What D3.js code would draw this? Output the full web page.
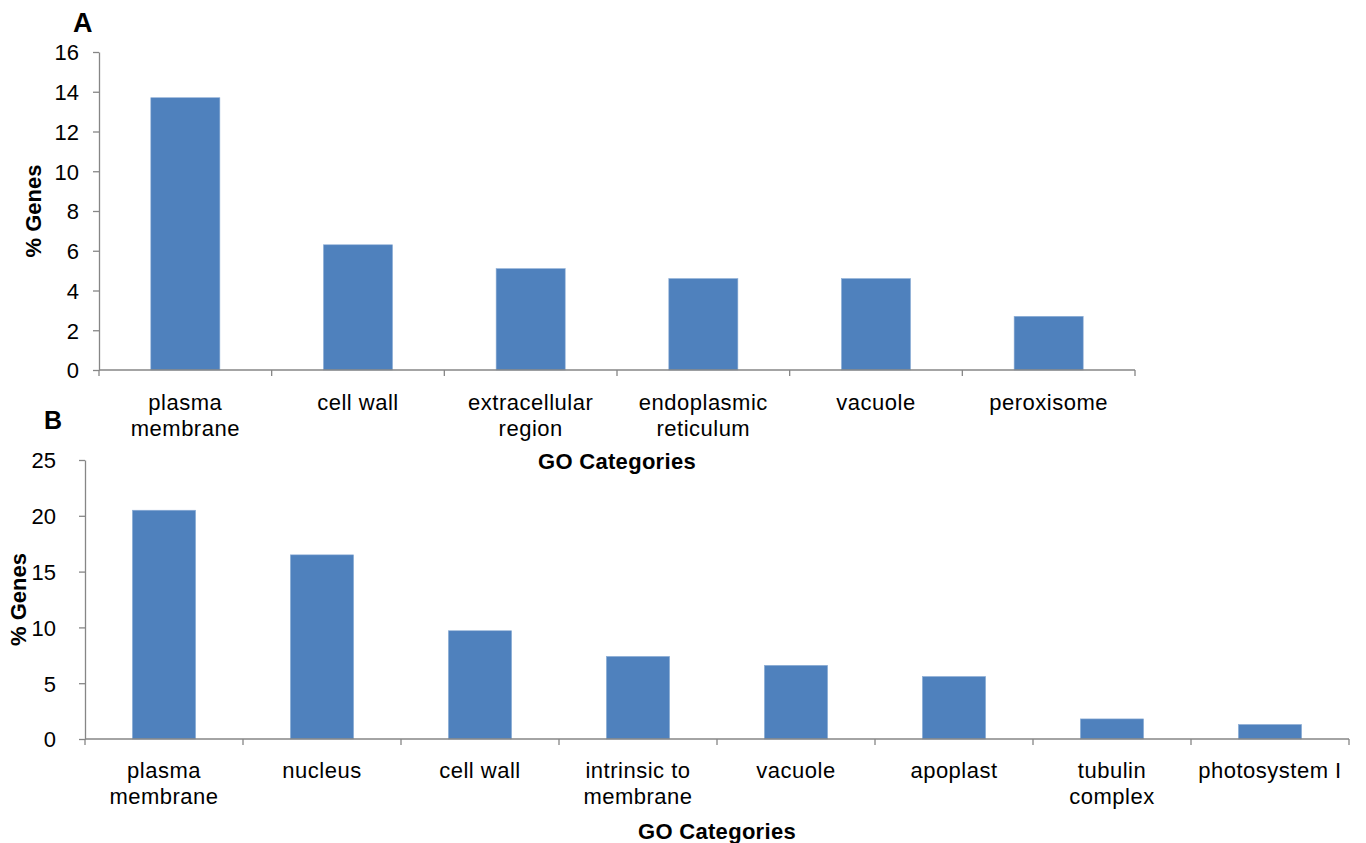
<!DOCTYPE html>
<html>
<head>
<meta charset="utf-8">
<script src="https://cdn.jsdelivr.net/npm/d3@7"></script>
<style>
  html, body { margin: 0; padding: 0; background: #fff; }
  svg { display: block; font-family: "Liberation Sans", Arial, sans-serif; }
</style>
</head>
<body>
<svg id="chart" width="1366" height="843"></svg>
<script>
// ---- Data ----
const categoriesA = ["plasma membrane", "cell wall", "extracellular region", "endoplasmic reticulum", "vacuole", "peroxisome"];
const labelLinesA = [["plasma", "membrane"], ["cell wall"], ["extracellular", "region"], ["endoplasmic", "reticulum"], ["vacuole"], ["peroxisome"]];
const valuesA = [13.7, 6.3, 5.1, 4.6, 4.6, 2.7];
const ticksA = [0, 2, 4, 6, 8, 10, 12, 14, 16];

const categoriesB = ["plasma membrane", "nucleus", "cell wall", "intrinsic to membrane", "vacuole", "apoplast", "tubulin complex", "photosystem I"];
const labelLinesB = [["plasma", "membrane"], ["nucleus"], ["cell wall"], ["intrinsic to", "membrane"], ["vacuole"], ["apoplast"], ["tubulin", "complex"], ["photosystem I"]];
const valuesB = [20.5, 16.5, 9.7, 7.4, 6.6, 5.6, 1.8, 1.3];
const ticksB = [0, 5, 10, 15, 20, 25];

const svg = d3.select("#chart");
const AXIS = "#868686";
const BAR = "#4F81BD";

function panel(cfg) {
  const g = svg.append("g");
  const x = d3.scaleBand().domain(cfg.cats).range([cfg.x0, cfg.x1]).paddingInner(0.6).paddingOuter(0.3);
  const y = d3.scaleLinear().domain([0, cfg.ymax]).range([cfg.y0, cfg.y1]);

  // bars
  g.selectAll("rect.bar").data(cfg.values).enter().append("rect")
    .attr("class", "bar")
    .attr("x", (d, i) => x(cfg.cats[i]))
    .attr("width", x.bandwidth())
    .attr("y", d => y(d))
    .attr("height", d => y(0) - y(d))
    .attr("fill", BAR)
    .attr("stroke", "#8eaed6")
    .attr("stroke-width", 0.6);

  // y axis
  const yAxis = d3.axisLeft(y).tickValues(cfg.ticks).tickSize(6).tickPadding(cfg.tickPad).tickSizeOuter(0);
  const ya = g.append("g").attr("transform", `translate(${cfg.x0},0)`).call(yAxis);
  ya.select(".domain").attr("stroke", AXIS).attr("stroke-width", 1.3);
  ya.selectAll(".tick line").attr("stroke", AXIS).attr("stroke-width", 1.3);
  ya.selectAll(".tick text").attr("fill", "#000").style("font-size", "22px")
    .attr("dy", "0.36em");

  // x axis line
  g.append("line").attr("x1", cfg.x0).attr("x2", cfg.x1).attr("y1", y(0)).attr("y2", y(0))
    .attr("stroke", AXIS).attr("stroke-width", 1.3);
  // x boundary ticks
  const bounds = cfg.cats.map(c => x(c) - x.step() * 0.3).concat([cfg.x1]);
  g.selectAll("line.xt").data(bounds).enter().append("line")
    .attr("x1", d => d).attr("x2", d => d)
    .attr("y1", y(0)).attr("y2", y(0) + 6)
    .attr("stroke", AXIS).attr("stroke-width", 1.3);

  // category labels
  cfg.lines.forEach((lines, i) => {
    const cx = x(cfg.cats[i]) + x.bandwidth() / 2;
    const t = g.append("text").attr("text-anchor", "middle")
      .style("font-size", "22px").style("letter-spacing", "0.5px").attr("fill", "#000");
    lines.forEach((ln, j) => {
      t.append("tspan").attr("x", cx).attr("y", cfg.labY + j * 26).text(ln);
    });
  });

  // x title
  g.append("text").attr("x", (cfg.x0 + cfg.x1) / 2).attr("y", cfg.titleY)
    .attr("text-anchor", "middle").style("font-size", "22px").style("font-weight", "bold")
    .style("letter-spacing", "0.3px")
    .text("GO Categories");

  // y title
  g.append("text")
    .attr("transform", `translate(${cfg.yTitleX},${(cfg.y0 + cfg.y1) / 2}) rotate(-90)`)
    .attr("text-anchor", "middle").style("font-size", "22px").style("font-weight", "bold")
    .text("% Genes");

  // panel letter
  g.append("text").attr("x", cfg.letterX).attr("y", cfg.letterY)
    .style("font-size", cfg.letterSize).style("font-weight", "bold").text(cfg.letter);
}

panel({
  cats: categoriesA, lines: labelLinesA, values: valuesA, ticks: ticksA, ymax: 16,
  x0: 99, x1: 1135, y0: 370, y1: 52, tickPad: 14,
  labY: 410, titleY: 469, yTitleX: 41, letter: "A", letterX: 73, letterY: 32, letterSize: "27px"
});

panel({
  cats: categoriesB, lines: labelLinesB, values: valuesB, ticks: ticksB, ymax: 25,
  x0: 85, x1: 1349, y0: 739, y1: 460, tickPad: 23,
  labY: 778, titleY: 839, yTitleX: 26, letter: "B", letterX: 44, letterY: 429, letterSize: "25px"
});
</script>
</body>
</html>
